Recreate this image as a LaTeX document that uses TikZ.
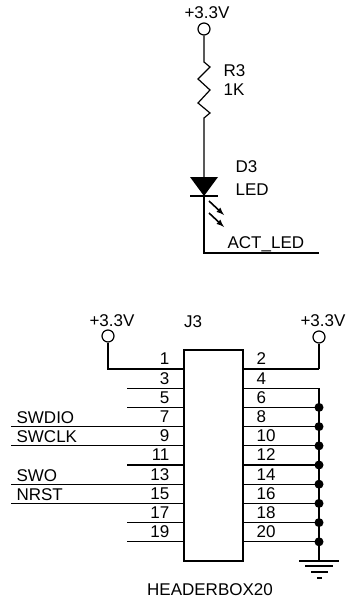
\documentclass[tikz,border=0pt]{standalone}
\usepackage{fontspec}
\setmainfont{Liberation Sans}
\usepackage{xcolor}
\usetikzlibrary{calc,arrows}

\begin{document}
\begin{tikzpicture}[x=1pt,y=-1pt,line width=1.2pt,
  every node/.style={font=\fontsize{17}{18}\selectfont,inner sep=0pt},
  power/.style={circle,draw,fill=white,minimum size=12pt},
  junct/.style={circle,fill=black,minimum size=9pt}]
  \useasboundingbox (0,0) rectangle (349,605);

  % LED branch
  \node[power] (vcc) at (204,29) {};
  \node (vcclab) at (207,13) {+3.3V};
  \coordinate (rtop) at (204,62);
  \coordinate (rbot) at (204,118);
  \coordinate (dtop) at (204,177);
  \coordinate (dbot) at (204,196);
  \coordinate (act) at (204,253);
  \coordinate (actend) at (319,253);
  \draw (vcc) -- (rtop) -- (210,67) -- (198,79) -- (210,90) -- (198,103) -- (210,113) -- (rbot) -- (dtop);
  \fill (190,177) -- (218,177) -- (dbot) -- cycle;
  \draw (190,196) -- (218,196);
  \draw (dbot) -- (act) -- (actend);
  \draw[-latex,line width=1.6pt] (209,201) -- (224,215);
  \draw[-latex,line width=1.6pt] (209,213) -- (224,227);
  \node[anchor=west] (r3) at (223,71) {R3};
  \node[anchor=west] (r3val) at (223,90) {1K};
  \node[anchor=west] (d3) at (235,167) {D3};
  \node[anchor=west] (d3val) at (235,190) {LED};
  \node[anchor=west] (actlab) at (227,244) {ACT\_LED};

  % header
  \node[draw,minimum width=59pt,minimum height=211pt] (j3) at (213.5,455.5) {};
  \node (j3lab) at (193,322) {J3};
  \node (boxlab) at (210,590) {HEADERBOX20};

  \foreach \i/\odd/\even in {0/1/2,1/3/4,2/5/6,3/7/8,4/9/10,5/11/12,6/13/14,7/15/16,8/17/18,9/19/20} {
    \coordinate (l\odd) at (184,369+19.2*\i);
    \coordinate (r\even) at (243,369+19.2*\i);
    \coordinate (e\even) at (319,369+19.2*\i);
    \node[anchor=east] (n\odd) at ($(l\odd)+(-14,-10)$) {\odd};
    \node[anchor=west] (n\even) at ($(r\even)+(13,-10)$) {\even};
    \draw (r\even) -- (e\even);
  }
  \foreach \odd in {3,5,11,17,19}
    \draw (l\odd) -- ($(l\odd)+(-57,0)$);
  \foreach \odd/\sig in {7/SWDIO,9/SWCLK,13/SWO,15/NRST} {
    \draw (l\odd) -- ($(l\odd)+(-173,0)$);
    \node[anchor=west] (sig\odd) at ($(l\odd)+(-168,-9)$) {\sig};
  }

  % power pins
  \node[power] (vccl) at (108,336) {};
  \node (vccllab) at (112,321) {+3.3V};
  \node[power] (vccr) at (319,337) {};
  \node (vccrlab) at (323,321) {+3.3V};
  \draw (vccl) |- (l1);
  \draw (vccr) -- (e2);

  % ground
  \coordinate (gnd) at (319,561);
  \draw (e4) -- (gnd);
  \foreach \even in {6,8,...,20}
    \node[junct] (j\even) at (e\even) {};
  \draw (299,561) -- (339,561);
  \draw (305,566) -- (333,566);
  \draw (311,572) -- (328,572);
  \draw (317,578) -- (322,578);
\end{tikzpicture}
\end{document}
